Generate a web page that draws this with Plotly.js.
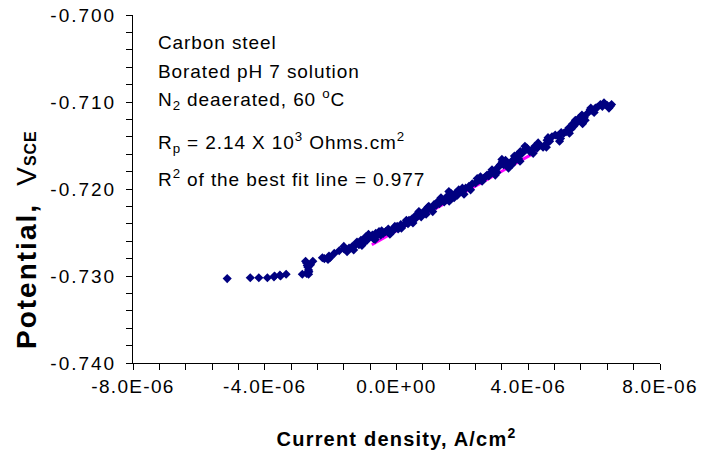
<!DOCTYPE html>
<html>
<head>
<meta charset="utf-8">
<script src="https://cdn.plot.ly/plotly-3.0.1.min.js"></script>
<style>
html, body { margin: 0; padding: 0; background: #fff; }
#chart { width: 702px; height: 455px; }
.xtick text { letter-spacing: 1.3px; }
.ytick text { letter-spacing: 2px; }
.annotation-text { letter-spacing: 0.9px; }
.xtitle { letter-spacing: 1.2px; }
</style>
</head>
<body>
<div id="chart"></div>
<script>
// Measured polarization data: current density (A/cm^2) vs potential (V SCE)
const currentDensity = [
 -5.14e-6,-4.44e-6,-4.18e-6,-3.92e-6,-3.72e-6,-3.70e-6,-3.54e-6,-3.52e-6,-3.35e-6,-2.86e-6,
 -2.76e-6,-2.73e-6,-2.71e-6,-2.69e-6,-2.67e-6,-2.66e-6,-2.67e-6,-2.73e-6,-2.61e-6,-2.54e-6,
 -2.25e-6,-2.19e-6,-2.08e-6,-2.05e-6,-2.02e-6,-1.89e-6,-1.74e-6,-1.59e-6,-1.44e-6,-1.34e-6,
 -1.30e-6,-1.24e-6,-1.14e-6,-1.08e-6,-1.00e-6,-0.98e-6,-0.93e-6,-0.90e-6,-0.83e-6,-0.73e-6,
 -0.70e-6,-0.63e-6,-0.60e-6,-0.53e-6,-0.48e-6,-0.40e-6,-0.33e-6,-0.25e-6,-0.18e-6,-0.10e-6,
 -0.08e-6,0.02e-6,0.05e-6,0.13e-6,0.20e-6,0.28e-6,0.35e-6,0.38e-6,0.45e-6,0.48e-6,
 0.55e-6,0.58e-6,0.68e-6,0.68e-6,0.75e-6,0.83e-6,0.85e-6,0.93e-6,0.98e-6,1.05e-6,
 1.14e-6,1.20e-6,1.24e-6,1.30e-6,1.39e-6,1.45e-6,1.49e-6,1.55e-6,1.59e-6,1.69e-6,
 1.75e-6,1.79e-6,1.85e-6,1.89e-6,1.99e-6,2.05e-6,2.10e-6,2.20e-6,2.30e-6,2.40e-6,
 2.50e-6,2.55e-6,2.60e-6,2.65e-6,2.70e-6,2.75e-6,2.80e-6,2.85e-6,2.95e-6,3.01e-6,
 3.05e-6,3.11e-6,3.15e-6,3.21e-6,3.25e-6,3.31e-6,3.35e-6,3.41e-6,3.46e-6,3.50e-6,
 3.55e-6,3.61e-6,3.66e-6,3.66e-6,3.70e-6,3.76e-6,3.81e-6,3.85e-6,3.92e-6,3.96e-6,
 4.05e-6,4.12e-6,4.20e-6,4.27e-6,4.35e-6,4.45e-6,4.52e-6,4.57e-6,4.65e-6,4.72e-6,
 4.82e-6,4.90e-6,4.98e-6,5.08e-6,5.15e-6,5.23e-6,5.30e-6,5.38e-6,5.43e-6,5.50e-6,
 5.53e-6,5.63e-6,5.70e-6,5.73e-6,5.80e-6,5.88e-6,5.95e-6,6.04e-6,6.10e-6,6.19e-6,
 6.25e-6,6.34e-6,6.40e-6,6.49e-6,6.53e-6,
 -1.60e-6,-1.20e-6,-0.85e-6,-0.45e-6,-0.05e-6,0.30e-6,0.62e-6,0.95e-6,1.35e-6,1.65e-6,
 2.00e-6,2.45e-6,2.90e-6,3.20e-6,3.58e-6,3.90e-6,4.30e-6,4.60e-6,5.00e-6,5.35e-6,
 5.60e-6,5.90e-6,6.30e-6,
 -1.50e-6,-1.05e-6,-0.65e-6,-0.20e-6,0.15e-6,0.50e-6,0.90e-6,1.10e-6,1.60e-6,2.25e-6,
 3.00e-6,3.40e-6,3.75e-6,4.15e-6,4.55e-6,4.95e-6,5.25e-6,5.65e-6,6.00e-6,6.45e-6
];
const potential = [
 -0.7303,-0.7302,-0.7302,-0.7302,-0.7301,-0.7300,-0.7299,-0.7300,-0.7298,-0.7298,
 -0.7283,-0.7285,-0.7288,-0.7290,-0.7293,-0.7295,-0.7298,-0.7297,-0.7287,-0.7283,
 -0.7279,-0.7280,-0.7281,-0.7277,-0.7279,-0.7274,-0.7271,-0.7269,-0.7268,-0.7266,
 -0.7270,-0.7264,-0.7264,-0.7259,-0.7262,-0.7257,-0.7255,-0.7259,-0.7255,-0.7253,
 -0.7257,-0.7251,-0.7254,-0.7249,-0.7253,-0.7251,-0.7249,-0.7246,-0.7249,-0.7248,
 -0.7245,-0.7243,-0.7246,-0.7241,-0.7242,-0.7239,-0.7240,-0.7236,-0.7237,-0.7234,
 -0.7235,-0.7232,-0.7230,-0.7226,-0.7232,-0.7228,-0.7225,-0.7224,-0.7220,-0.7223,
 -0.7218,-0.7219,-0.7215,-0.7217,-0.7213,-0.7215,-0.7211,-0.7208,-0.7203,-0.7209,
 -0.7210,-0.7205,-0.7207,-0.7201,-0.7203,-0.7206,-0.7199,-0.7197,-0.7194,-0.7193,
 -0.7190,-0.7186,-0.7191,-0.7188,-0.7186,-0.7184,-0.7185,-0.7182,-0.7180,-0.7178,
 -0.7181,-0.7174,-0.7172,-0.7169,-0.7172,-0.7167,-0.7170,-0.7174,-0.7170,-0.7172,
 -0.7166,-0.7167,-0.7161,-0.7163,-0.7165,-0.7157,-0.7159,-0.7157,-0.7155,-0.7153,
 -0.7157,-0.7155,-0.7151,-0.7153,-0.7150,-0.7152,-0.7149,-0.7144,-0.7145,-0.7140,
 -0.7138,-0.7139,-0.7142,-0.7136,-0.7134,-0.7130,-0.7131,-0.7128,-0.7121,-0.7123,
 -0.7119,-0.7115,-0.7118,-0.7121,-0.7113,-0.7109,-0.7110,-0.7107,-0.7106,-0.7103,
 -0.7105,-0.7103,-0.7104,-0.7105,-0.7103,
 -0.7266,-0.7261,-0.7252,-0.7248,-0.7243,-0.7236,-0.7229,-0.7221,-0.7210,-0.7205,
 -0.7199,-0.7188,-0.7178,-0.7166,-0.7162,-0.7151,-0.7147,-0.7141,-0.7135,-0.7125,
 -0.7117,-0.7107,-0.7101,
 -0.7272,-0.7265,-0.7258,-0.7252,-0.7245,-0.7239,-0.7229,-0.7226,-0.7214,-0.7201,
 -0.7184,-0.7176,-0.7168,-0.7159,-0.7152,-0.7145,-0.7136,-0.7125,-0.7112,-0.7107
];
// Best-fit (linear polarization) line end points
const fitCurrent = [-0.75e-6, 4.25e-6];
const fitPotential = [-0.72641, -0.71571];

// Axis ticks
const xTickVals = [-8e-6, -4e-6, 0, 4e-6, 8e-6];
const xTickText = ['-8.0E-06', '-4.0E-06', '0.0E+00', '4.0E-06', '8.0E-06'];
const yTickVals = [-0.740, -0.730, -0.720, -0.710, -0.700];
const yTickText = ['-0.740', '-0.730', '-0.720', '-0.710', '-0.700'];

// Annotation text lines
const noteLines = [
  'Carbon steel',
  'Borated pH 7 solution',
  'N<sub>2</sub> deaerated, 60 <sup>o</sup>C',
  'R<sub>p</sub> = 2.14 X 10<sup>3</sup> Ohms.cm<sup>2</sup>',
  'R<sup>2</sup> of the best fit line = 0.977'
];
const notePixelY = [42, 71, 100, 142, 178];

const FONT = 'Liberation Sans, Arial, sans-serif';
const plotTop = 15, plotBottom = 363, plotLeft = 133, plotRight = 660;

const traces = [
  {
    x: fitCurrent, y: fitPotential, type: 'scatter', mode: 'lines',
    line: { color: '#FF00FF', width: 3 }, hoverinfo: 'skip', showlegend: false
  },
  {
    x: currentDensity, y: potential, type: 'scatter', mode: 'markers',
    marker: { symbol: 'diamond', size: 7, color: '#000080', line: { width: 0 } },
    showlegend: false
  }
];

const annotations = noteLines.map((t, i) => ({
  text: t, xref: 'paper', yref: 'paper', x: (156 - plotLeft) / (plotRight - plotLeft),
  y: (plotBottom - notePixelY[i]) / (plotBottom - plotTop),
  xanchor: 'left', yanchor: 'middle', align: 'left', showarrow: false,
  font: { family: FONT, size: 19, color: '#000' }
}));

annotations.push({
  text: '<span style="letter-spacing:2px"><b>Potential,</b></span>  V<b><span style="font-size:16px">SCE</span></b>',
  xref: 'paper', yref: 'paper', x: (26 - plotLeft) / (plotRight - plotLeft),
  y: (plotBottom - 240) / (plotBottom - plotTop),
  xanchor: 'center', yanchor: 'middle', textangle: -90, showarrow: false,
  font: { family: FONT, size: 28, color: '#000' }
});

const layout = {
  width: 702, height: 455,
  margin: { l: plotLeft, r: 702 - plotRight, t: plotTop, b: 455 - plotBottom, pad: 0 },
  paper_bgcolor: '#fff', plot_bgcolor: '#fff',
  font: { family: FONT, color: '#000' },
  showlegend: false,
  xaxis: {
    range: [-8e-6, 8e-6], tickmode: 'array', tickvals: xTickVals, ticktext: xTickText,
    ticks: 'outside', ticklen: 6, tickcolor: '#000', tickwidth: 1,
    showline: true, linecolor: '#000', linewidth: 1, showgrid: false, zeroline: false,
    tickfont: { family: FONT, size: 19, color: '#000' },
    minor: { tickmode: 'linear', tick0: -8e-6, dtick: 8e-7, ticks: 'outside', ticklen: 6, tickcolor: '#000', showgrid: false },
    title: { text: '<b>Current density, A/cm<sup>2</sup></b>', font: { family: FONT, size: 20, color: '#000' }, standoff: 36 }
  },
  yaxis: {
    range: [-0.740, -0.700], tickmode: 'array', tickvals: yTickVals, ticktext: yTickText,
    ticks: 'outside', ticklen: 6, tickcolor: '#000', tickwidth: 1,
    showline: true, linecolor: '#000', linewidth: 1, showgrid: false, zeroline: false,
    tickfont: { family: FONT, size: 19, color: '#000' },
    ticklabelstandoff: 6,
    minor: { tickmode: 'linear', tick0: -0.740, dtick: 0.002, ticks: 'outside', ticklen: 6, tickcolor: '#000', showgrid: false }
  },
  annotations: annotations
};

Plotly.newPlot('chart', traces, layout, { staticPlot: true, displayModeBar: false });
</script>
</body>
</html>
